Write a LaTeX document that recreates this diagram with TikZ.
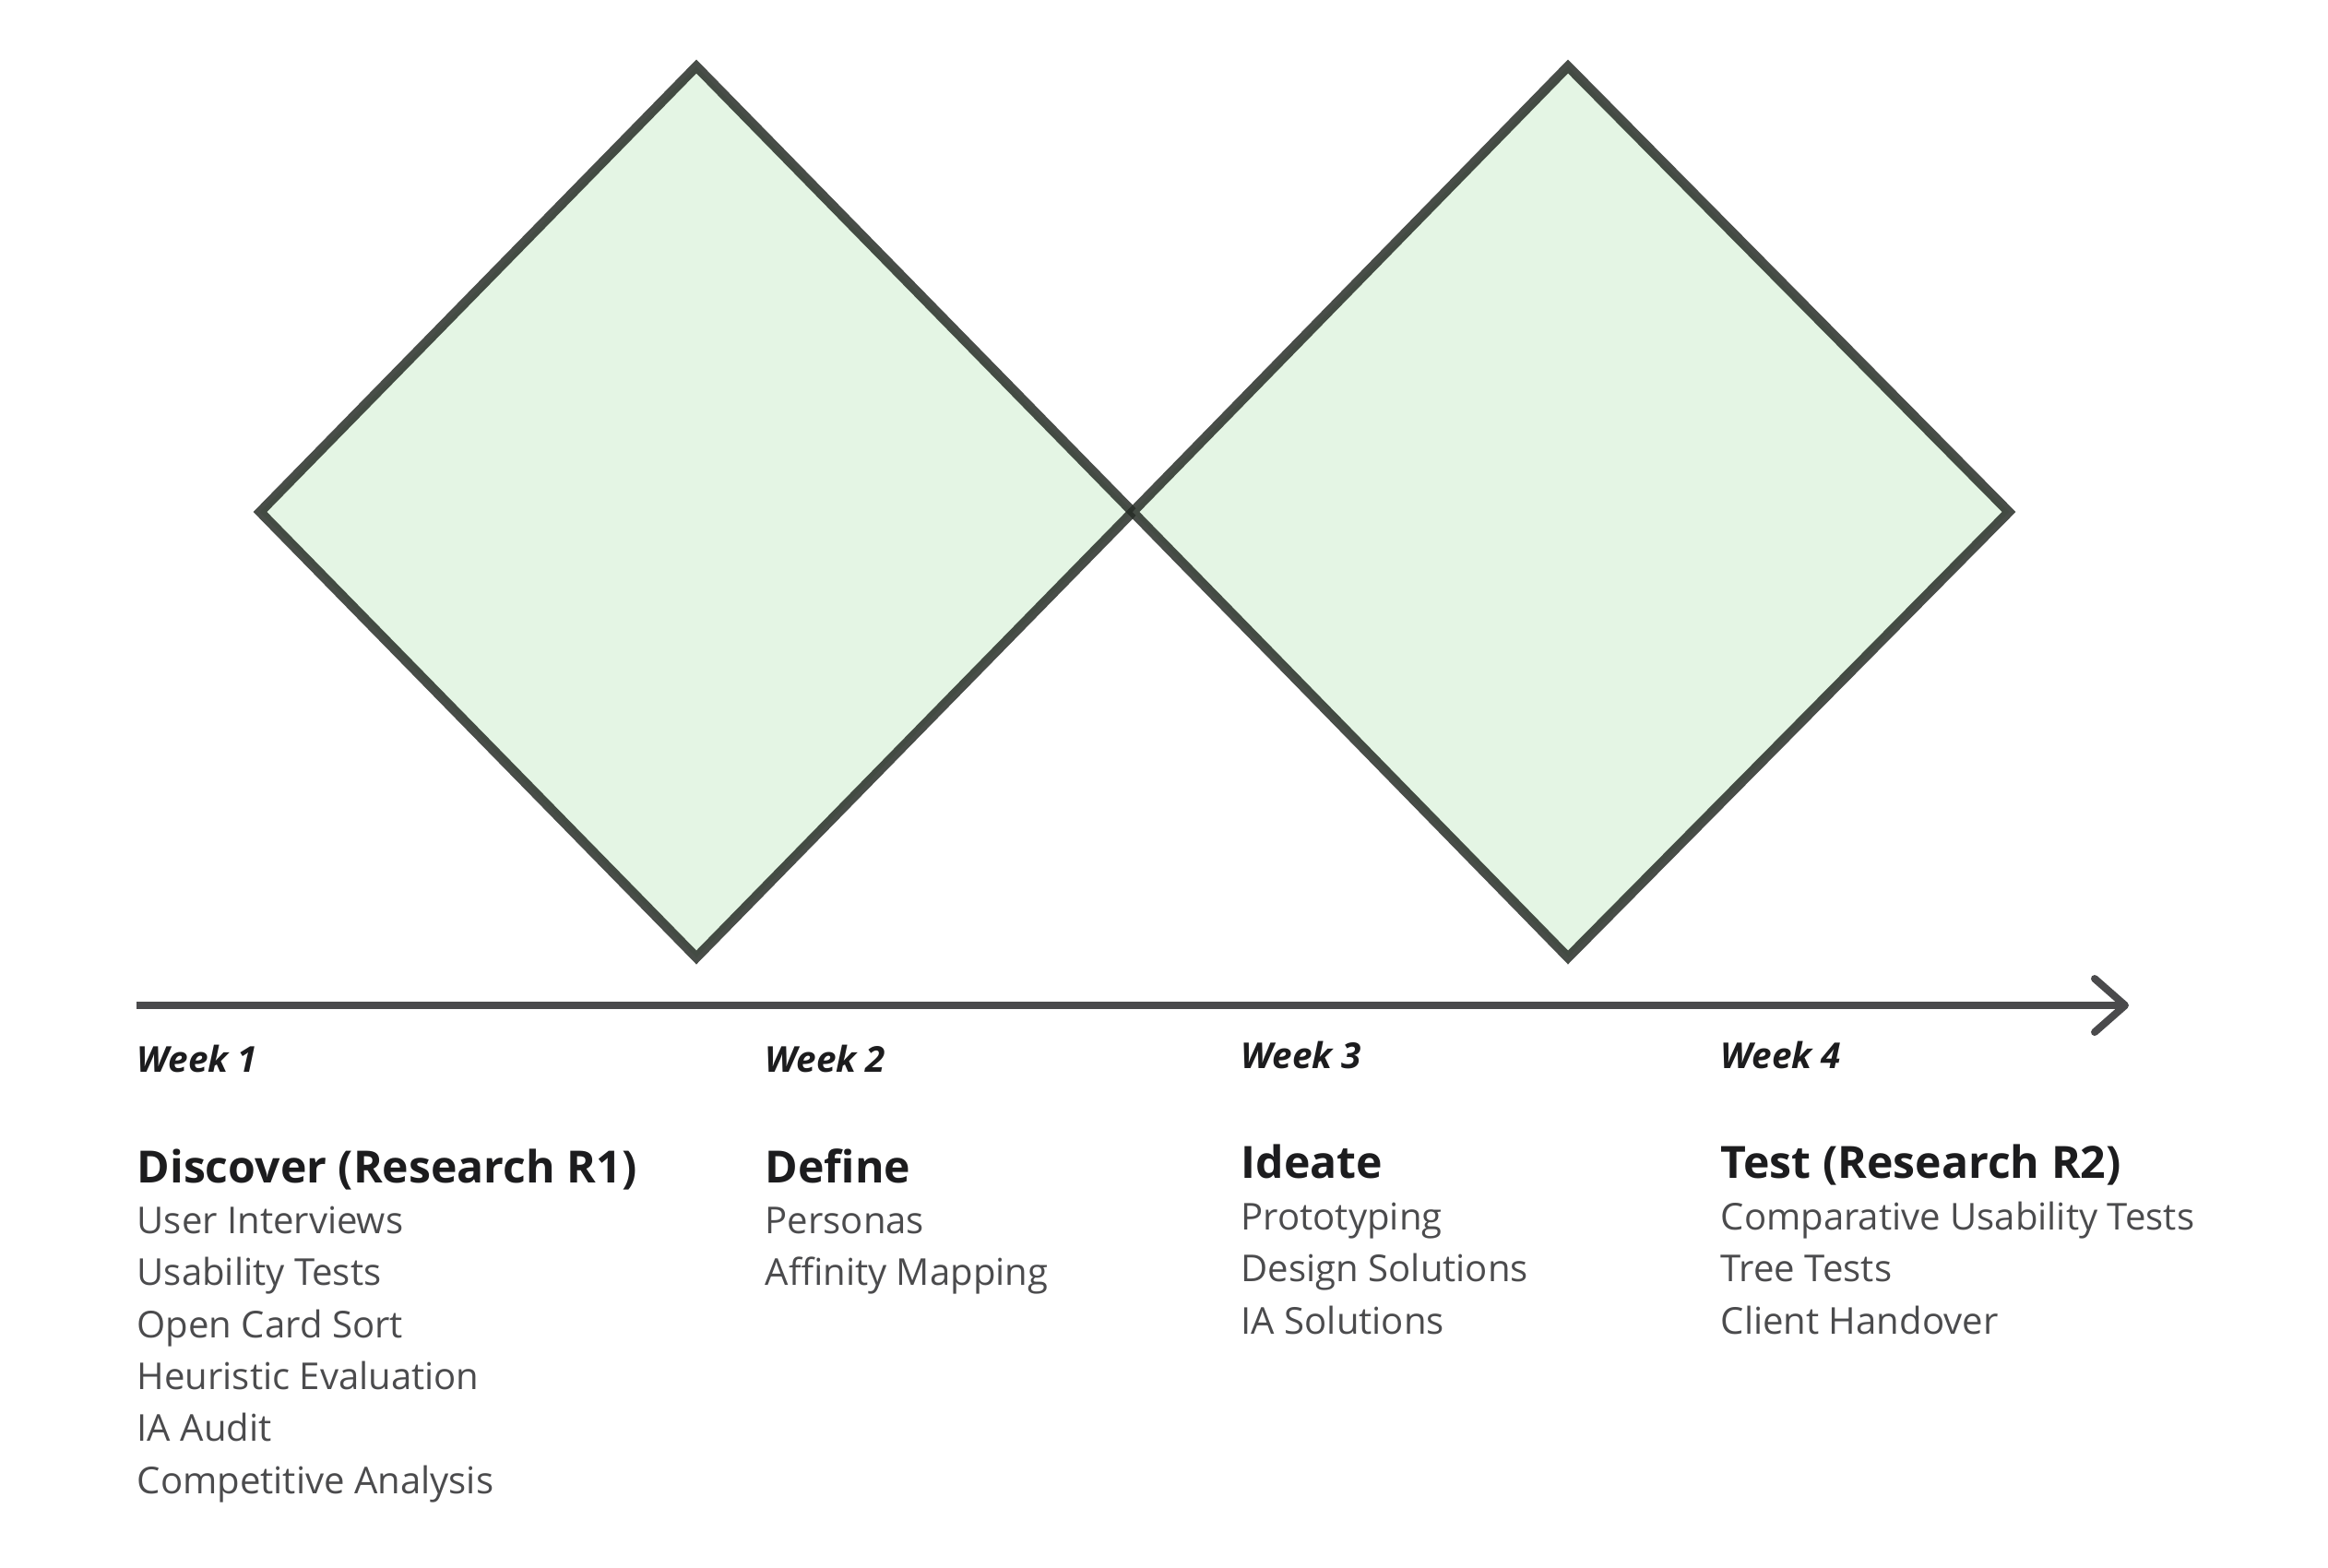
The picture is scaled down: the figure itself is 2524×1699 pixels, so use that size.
\documentclass[tikz,border=0pt]{standalone}
\usepackage{fontspec}
\setmainfont{Open Sans}
\usetikzlibrary{arrows.meta}

\definecolor{edgegrey}{HTML}{252B25}
\definecolor{phasefill}{HTML}{E4F5E4}
\definecolor{axisgrey}{HTML}{4A4A4C}
\definecolor{headblack}{HTML}{1C1C1E}
\definecolor{itemgrey}{HTML}{4B4B4D}

\begin{document}
\begin{tikzpicture}[x=0.01cm, y=-0.01cm]
  \tikzstyle{diamondpath}=[draw=edgegrey, draw opacity=0.84, fill=phasefill, line width=0.105cm]
  \tikzstyle{timeline}=[draw=axisgrey, line width=0.08cm, -{Straight Barb[round, length=0.33cm, width=0.58cm]}]
  \tikzstyle{week}=[anchor=base west, inner sep=0pt, text=headblack, font=\fontsize{11pt}{13pt}\selectfont\bfseries\itshape]
  \tikzstyle{phase}=[anchor=base west, inner sep=0pt, text=headblack, font=\fontsize{13.7pt}{16pt}\selectfont\bfseries]
  \tikzstyle{item}=[anchor=base west, inner sep=0pt, text=itemgrey, font=\fontsize{11.4pt}{14pt}\selectfont]

  \useasboundingbox (0,0) rectangle (2524,1699);

  % double diamond
  \coordinate (aW) at (282, 555);
  \coordinate (aN) at (755, 72);
  \coordinate (aS) at (755, 1038);
  \coordinate (mid) at (1228, 555);
  \coordinate (bN) at (1700, 72);
  \coordinate (bS) at (1700, 1038);
  \coordinate (bE) at (2178, 555);

  \path[diamondpath] (aW) -- (aN) -- (mid) -- (aS) -- cycle;
  \path[diamondpath] (mid) -- (bN) -- (bE) -- (bS) -- cycle;

  % time axis
  \coordinate (start) at (148, 1090);
  \coordinate (end) at (2308, 1090);
  \draw[timeline] (start) -- (end);

  \node[week] (w1) at (148, 1162) {Week 1};
  \node[week] (w2) at (829, 1162) {Week 2};
  \node[week] (w3) at (1345, 1158) {Week 3};
  \node[week] (w4) at (1865, 1158) {Week 4};

  \node[phase] (h1) at (148, 1282) {Discover (Research R1)};
  \node[phase] (h2) at (829, 1282) {Define};
  \node[phase] (h3) at (1345, 1277) {Ideate};
  \node[phase] (h4) at (1865, 1277) {Test (Research R2)};

  \node[item] (d1) at (148, 1337) {User Interviews};
  \node[item] (d2) at (148, 1393) {Usability Tests};
  \node[item] (d3) at (148, 1450) {Open Card Sort};
  \node[item] (d4) at (148, 1506) {Heuristic Evaluation};
  \node[item] (d5) at (148, 1562) {IA Audit};
  \node[item] (d6) at (148, 1619) {Competitive Analysis};

  \node[item] (f1) at (829, 1337) {Personas};
  \node[item] (f2) at (829, 1393) {Affinity Mapping};

  \node[item] (i1) at (1345, 1333) {Prototyping};
  \node[item] (i2) at (1345, 1389) {Design Solutions};
  \node[item] (i3) at (1345, 1446) {IA Solutions};

  \node[item] (t1) at (1865, 1333) {Comparative Usability Tests};
  \node[item] (t2) at (1865, 1389) {Tree Tests};
  \node[item] (t3) at (1865, 1446) {Client Handover};
\end{tikzpicture}
\end{document}
